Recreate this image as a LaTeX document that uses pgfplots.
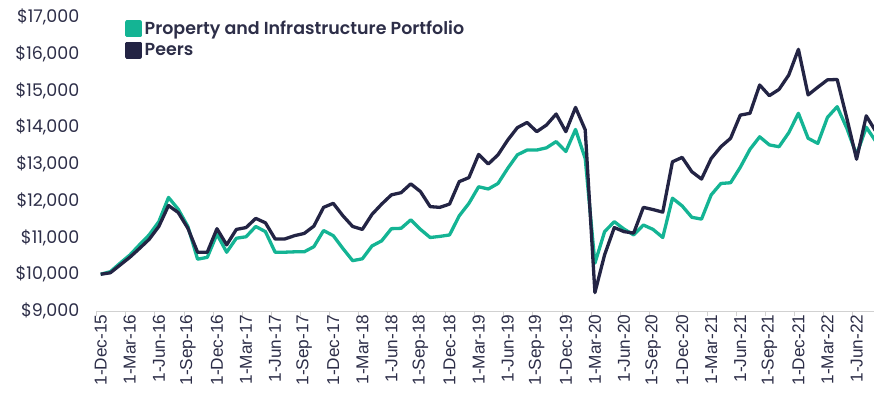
\documentclass[border=0pt]{standalone}
\usepackage{fontspec}
\setmainfont{Poppins}[BoldFont={Poppins SemiBold}]
\newfontfamily\xlab{Liberation Sans}
\usepackage{pgfplots}
\usepackage{pgfplotstable}
\pgfplotsset{compat=1.18}
\definecolor{pgreen}{RGB}{20,180,148}
\definecolor{pnavy}{RGB}{35,36,68}
\definecolor{ptext}{RGB}{45,46,72}

\pgfplotstableread{
i P G
0 10000 10000
1 10040 10070
2 10250 10300
3 10460 10520
4 10700 10800
5 10950 11070
6 11300 11430
7 11870 12090
8 11680 11770
9 11250 11300
10 10600 10410
11 10600 10460
12 11240 11090
13 10800 10600
14 11220 10980
15 11270 11020
16 11520 11300
17 11400 11160
18 10960 10600
19 10960 10600
20 11050 10610
21 11110 10610
22 11310 10750
23 11820 11190
24 11930 11050
25 11590 10700
26 11300 10370
27 11220 10420
28 11630 10770
29 11910 10910
30 12160 11240
31 12220 11250
32 12460 11480
33 12250 11220
34 11840 11000
35 11820 11030
36 11910 11070
37 12520 11590
38 12630 11930
39 13260 12380
40 13000 12320
41 13250 12470
42 13650 12880
43 13990 13250
44 14130 13380
45 13880 13380
46 14060 13440
47 14360 13610
48 13880 13340
49 14540 13940
50 13930 13150
51 9500 10300
52 10530 11160
53 11270 11430
54 11160 11230
55 11120 11070
56 11820 11340
57 11760 11220
58 11690 11000
59 13060 12070
60 13180 11860
61 12790 11550
62 12590 11500
63 13150 12160
64 13470 12470
65 13700 12490
66 14330 12910
67 14380 13400
68 15150 13740
69 14860 13520
70 15030 13470
71 15420 13850
72 16120 14380
73 14880 13700
74 15090 13560
75 15290 14270
76 15300 14560
77 14240 13970
78 13130 13250
79 14310 14000
80 13880 13610
}\datatable

\begin{document}
\begin{tikzpicture}
\useasboundingbox (0,0) rectangle (874bp,403bp);
\begin{axis}[
  at={(96.8bp,92bp)}, anchor=south west,
  scale only axis, width=777.2bp, height=294bp,
  xmin=-0.4, xmax=79.8, ymin=9000, ymax=17000,
  axis lines*=left,
  x axis line style={draw=black!18, line width=0.9bp, -},
  y axis line style={draw=none, -},
  tick align=outside,
  major tick length=0pt,
  xtick={0,3,...,78},
  xticklabels={1-Dec-15,1-Mar-16,1-Jun-16,1-Sep-16,1-Dec-16,1-Mar-17,1-Jun-17,1-Sep-17,1-Dec-17,1-Mar-18,1-Jun-18,1-Sep-18,1-Dec-18,1-Mar-19,1-Jun-19,1-Sep-19,1-Dec-19,1-Mar-20,1-Jun-20,1-Sep-20,1-Dec-20,1-Mar-21,1-Jun-21,1-Sep-21,1-Dec-21,1-Mar-22,1-Jun-22},
  xticklabel style={rotate=90, anchor=east, font=\xlab\fontsize{17.3}{20}\selectfont, text=ptext},
  minor xtick={-0.4,2.6,...,80},
  minor tick length=5bp,
  minor tick style={draw=black!18, line width=0.9bp},
  ytick={9000,10000,...,17000},
  scaled y ticks=false,
  yticklabel={\$\pgfmathprintnumber[assume math mode=true,fixed,precision=0,1000 sep={,}]{\tick}},
  yticklabel style={font=\fontsize{17.5}{20}\selectfont, text=ptext, anchor=east, xshift=-14bp},
  legend style={at={(rel axis cs:0,1)}, anchor=north west, xshift=25bp, yshift=0bp,
    draw=none, fill=none, font=\bfseries\fontsize{17.5}{20}\selectfont, text=ptext,
    row sep=3bp, column sep=1bp},
  legend cell align=left,
  legend image code/.code={\fill[#1] (0bp,-6.7bp) rectangle (13.4bp,6.7bp);},
]
\addplot[pgreen, line width=3.3bp, line join=round] table[x=i, y=G] {\datatable};
\addlegendentry{Property and Infrastructure Portfolio}
\addplot[pnavy, line width=3.3bp, line join=round] table[x=i, y=P] {\datatable};
\addlegendentry{Peers}
\end{axis}
\end{tikzpicture}
\end{document}
